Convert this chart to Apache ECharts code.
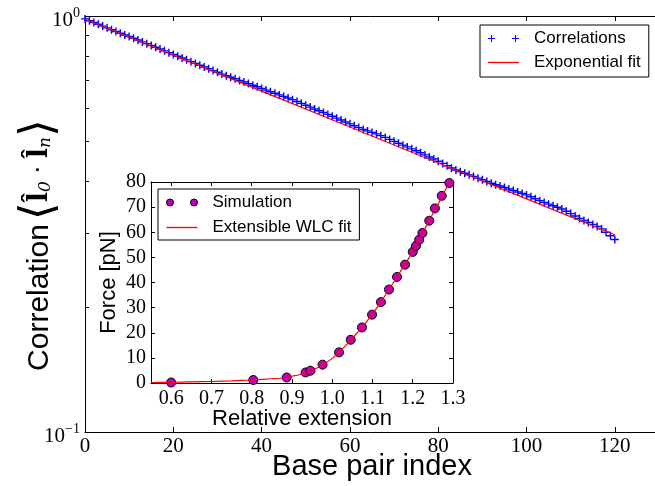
<!DOCTYPE html>
<html><head><meta charset="utf-8">
<script src="https://cdn.jsdelivr.net/npm/echarts@6/dist/echarts.min.js"></script>
<style>html,body{margin:0;padding:0;background:#fff}#c{width:655px;height:486px}</style>
</head><body><div id="c"></div>
<script>
// ---------- data ----------
const basePairIndex = [0,1,2,3,4,5,6,7,8,9,10,11,12,13,14,15,16,17,18,19,20,21,22,23,24,25,26,27,28,29,30,31,32,33,34,35,36,37,38,39,40,41,42,43,44,45,46,47,48,49,50,51,52,53,54,55,56,57,58,59,60,61,62,63,64,65,66,67,68,69,70,71,72,73,74,75,76,77,78,79,80,81,82,83,84,85,86,87,88,89,90,91,92,93,94,95,96,97,98,99,100,101,102,103,104,105,106,107,108,109,110,111,112,113,114,115,116,117,118,119,120];
const correlations = [
 0.9841,0.9744,0.9646,0.9551,0.9457,0.9364,0.9271,0.9179,0.9088,0.8999,
 0.8929,0.8840,0.8753,0.8665,0.8580,0.8496,0.8412,0.8328,0.8245,0.8165,
 0.8084,0.8004,0.7925,0.7846,0.7768,0.7693,0.7616,0.7540,0.7466,0.7392,
 0.7322,0.7249,0.7182,0.7122,0.7063,0.7001,0.6939,0.6879,0.6818,0.6757,
 0.6694,0.6636,0.6577,0.6519,0.6462,0.6406,0.6349,0.6294,0.6230,0.6166,
 0.6101,0.6040,0.5977,0.5918,0.5860,0.5800,0.5742,0.5681,0.5622,0.5563,
 0.5505,0.5448,0.5392,0.5337,0.5294,0.5250,0.5207,0.5158,0.5107,0.5051,
 0.4996,0.4945,0.4893,0.4845,0.4794,0.4744,0.4690,0.4635,0.4582,0.4530,
 0.4477,0.4423,0.4367,0.4312,0.4264,0.4225,0.4188,0.4151,0.4115,0.4076,
 0.4039,0.4001,0.3964,0.3932,0.3903,0.3872,0.3839,0.3807,0.3775,0.3743,
 0.3715,0.3678,0.3638,0.3599,0.3563,0.3530,0.3499,0.3469,0.3436,0.3393,
 0.3350,0.3305,0.3262,0.3224,0.3190,0.3155,0.3120,0.3078,0.3022,0.2964,
 0.2902];
const fitIndex = [0,20,40,60,80,100,120];
const fitCorrelation = [0.9824,0.8052,0.6600,0.5409,0.4434,0.3634,0.2979];

const simExtension = [0.600,0.804,0.887,0.934,0.946,0.976,1.017,1.046,1.074,1.099,1.121,1.141,1.161,1.181,1.200,1.208,1.216,1.224,1.241,1.255,1.272,1.291];
const simForce     = [0.2,1.2,2.2,4.2,4.9,7.3,12.2,17.2,22.1,27.2,32.2,37.2,42.2,47.1,52.2,54.6,57.0,59.7,64.6,69.5,74.5,79.6];
const wlcExtension = [0.55,0.60,0.65,0.70,0.75,0.80,0.85,0.88,0.90,0.92,0.94,0.96,0.98,1.00,1.02,1.04,1.06,1.08,1.10,1.12,1.14,1.16,1.18,1.20,1.22,1.24,1.26,1.28,1.29,1.30];
const wlcForce     = [0.2,0.3,0.45,0.6,0.85,1.2,1.7,2.1,2.7,3.4,4.5,5.8,7.6,9.8,12.8,16.0,19.6,23.3,27.5,32.0,37.0,42.0,47.0,52.3,58.3,64.4,70.3,76.5,79.5,82.5];

const mainXTicks = [0,20,40,60,80,100,120];
const mainYTickValues = [0.1,0.2,0.3,0.4,0.5,0.6,0.7,0.8,0.9,1.0];
const insetXTicks = [0.6,0.7,0.8,0.9,1.0,1.1,1.2,1.3];

// ---------- chart ----------
const chart = echarts.init(document.getElementById('c'), null, {renderer:'canvas'});
const BLACK = '#000';
const serif = 'Liberation Serif';
const sans = 'Liberation Sans';
const plusIcon = 'path://M0,3.3h8v1.4h-8zM3.3,0h1.4v8h-1.4z';
const plusPairIcon = 'path://M0,3h7v1h-7zM3,0h1v7h-1zM24,3h7v1h-7zM27,0h1v7h-1z';
const lineIcon = 'path://M0,0h31v1.3h-31z';
const circlePairIcon = 'path://M0,3.5a3.5,3.5 0 1,0 7,0a3.5,3.5 0 1,0 -7,0zM24,3.5a3.5,3.5 0 1,0 7,0a3.5,3.5 0 1,0 -7,0z';
const logTickPos = mainYTickValues.map(v => Math.log10(v));

function frameAxis(extra) {
  return Object.assign({
    axisLine: {show: true, onZero: false, lineStyle: {color: BLACK, width: 1}},
    splitLine: {show: false},
    nameMoveOverlap: false
  }, extra);
}

const option = {
  animation: false,
  backgroundColor: '#fff',
  grid: [
    {left: 85, top: 16, width: 574, height: 416, outerBoundsMode: 'none', containLabel: false},
    {left: 151, top: 182, width: 302, height: 201, show: true, backgroundColor: '#fff', borderWidth: 0, outerBoundsMode: 'none', containLabel: false}
  ],
  legend: [
    {
      left: 480, top: 25, orient: 'vertical',
      padding: [5, 8, 6, 8], itemWidth: 31, itemHeight: 7, itemGap: 7,
      backgroundColor: '#fff', borderColor: BLACK, borderWidth: 1, borderRadius: 0,
      selectedMode: false,
      itemStyle: {borderWidth: 0},
      data: [{name: 'Correlations', icon: plusPairIcon}, {name: 'Exponential fit', icon: lineIcon}],
      formatter: '{t|{name}}',
      textStyle: {color: BLACK, fontFamily: sans, fontSize: 17,
        rich: {t: {color: BLACK, fontFamily: sans, fontSize: 17, padding: [0, 0, 0, 10]}}}
    },
    {
      left: 158, top: 189, orient: 'vertical',
      padding: [5, 8, 4, 8], itemWidth: 31, itemHeight: 7, itemGap: 8,
      backgroundColor: '#fff', borderColor: BLACK, borderWidth: 1, borderRadius: 0,
      selectedMode: false,
      data: [
        {name: 'Simulation', icon: circlePairIcon, itemStyle: {borderColor: BLACK, borderWidth: 1}},
        {name: 'Extensible WLC fit', icon: lineIcon, itemStyle: {borderWidth: 0}}
      ],
      formatter: '{t|{name}}',
      textStyle: {color: BLACK, fontFamily: sans, fontSize: 17,
        rich: {t: {color: BLACK, fontFamily: sans, fontSize: 17, padding: [0, 0, 0, 10]}}}
    }
  ],
  xAxis: [
    frameAxis({
      gridIndex: 0, type: 'value', min: 0, max: 130, position: 'bottom',
      axisTick: {show: true, inside: true, length: 5, customValues: mainXTicks, lineStyle: {color: BLACK}},
      axisLabel: {show: true, customValues: mainXTicks, fontFamily: serif, fontSize: 21, color: BLACK, margin: 4},
      name: 'Base pair index', nameLocation: 'middle', nameGap: 20,
      nameTextStyle: {fontFamily: sans, fontSize: 29, color: BLACK}
    }),
    frameAxis({
      gridIndex: 0, type: 'value', min: 0, max: 130, position: 'top',
      axisTick: {show: true, inside: true, length: 5, customValues: mainXTicks, lineStyle: {color: BLACK}},
      axisLabel: {show: false}
    }),
    frameAxis({
      gridIndex: 1, type: 'value', min: 0.55, max: 1.3, position: 'bottom',
      axisTick: {show: true, inside: true, length: 4, customValues: insetXTicks, lineStyle: {color: BLACK}},
      axisLabel: {show: true, customValues: insetXTicks, formatter: v => Number(v).toFixed(1),
        fontFamily: serif, fontSize: 20, color: BLACK, margin: 6},
      name: 'Relative extension', nameLocation: 'middle', nameGap: 25,
      nameTextStyle: {fontFamily: sans, fontSize: 22, color: BLACK}
    }),
    frameAxis({
      gridIndex: 1, type: 'value', min: 0.55, max: 1.3, position: 'top',
      axisTick: {show: true, inside: true, length: 4, customValues: insetXTicks, lineStyle: {color: BLACK}},
      axisLabel: {show: false}
    })
  ],
  yAxis: [
    frameAxis({
      gridIndex: 0, type: 'log', logBase: 10, min: 0.1, max: 1, position: 'left',
      axisTick: {show: false},
      axisLabel: {
        show: true, margin: 5, padding: [5, 0, 0, 0],
        formatter: v => (v > 0.5 ? '{a|10}{s|0}' : '{a|10}{s|−1}'),
        rich: {
          a: {fontFamily: serif, fontSize: 21, color: BLACK, verticalAlign: 'bottom', padding: [4, 0, 0, 0]},
          s: {fontFamily: serif, fontSize: 14, color: BLACK, verticalAlign: 'top'}
        }
      },
      name: '{a|Correlation}{b|⟨}{c|l̂}{d|0}{e| · }{c|l̂}{d|n}{f|⟩}',
      nameLocation: 'middle', nameGap: 22,
      nameTextStyle: {
        color: BLACK,
        rich: {
          a: {fontFamily: sans, fontSize: 30, color: BLACK},
          b: {fontFamily: 'DejaVu Sans', fontSize: 46, color: BLACK, padding: [0, 0, 0, 4]},
          c: {fontFamily: 'DejaVu Serif', fontWeight: 'bold', fontSize: 27, color: BLACK},
          d: {fontFamily: 'DejaVu Serif', fontStyle: 'italic', fontSize: 17, color: BLACK, padding: [12, 0, 0, 0]},
          e: {fontFamily: 'DejaVu Serif', fontSize: 24, color: BLACK},
          f: {fontFamily: 'DejaVu Sans', fontSize: 46, color: BLACK, padding: [0, 42, 0, 0]}
        }
      }
    }),
    frameAxis({
      gridIndex: 0, type: 'value', min: -1, max: 0, position: 'left',
      axisLine: {show: false, onZero: false},
      axisTick: {show: true, inside: true, length: 4, customValues: logTickPos, lineStyle: {color: BLACK}},
      axisLabel: {show: false}
    }),
    frameAxis({
      gridIndex: 0, type: 'value', min: -1, max: 0, position: 'right',
      axisTick: {show: true, inside: true, length: 4, customValues: logTickPos, lineStyle: {color: BLACK}},
      axisLabel: {show: false}
    }),
    frameAxis({
      gridIndex: 1, type: 'value', min: 0, max: 80, interval: 10, position: 'left',
      axisTick: {show: true, inside: true, length: 4, lineStyle: {color: BLACK}},
      axisLabel: {show: true, fontFamily: serif, fontSize: 20, color: BLACK, margin: 5},
      name: 'Force [pN]', nameLocation: 'middle', nameGap: 31,
      nameTextStyle: {fontFamily: sans, fontSize: 22, color: BLACK}
    }),
    frameAxis({
      gridIndex: 1, type: 'value', min: 0, max: 80, interval: 10, position: 'right',
      axisTick: {show: true, inside: true, length: 4, lineStyle: {color: BLACK}},
      axisLabel: {show: false}
    })
  ],
  series: [
    {
      name: 'Correlations', type: 'scatter', xAxisIndex: 0, yAxisIndex: 0,
      data: basePairIndex.map((n, i) => [n, correlations[i]]),
      symbol: plusIcon, symbolSize: 8,
      itemStyle: {color: '#0000ff', opacity: 1}, z: 2
    },
    {
      name: 'Exponential fit', type: 'line', xAxisIndex: 0, yAxisIndex: 0,
      data: fitIndex.map((n, i) => [n, fitCorrelation[i]]),
      symbol: 'none', lineStyle: {color: '#ff0000', width: 1.2},
      itemStyle: {color: '#ff0000'}, z: 3
    },
    {
      name: 'Simulation', type: 'scatter', xAxisIndex: 2, yAxisIndex: 3,
      data: simExtension.map((x, i) => [x, simForce[i]]),
      symbol: 'circle', symbolSize: 9,
      itemStyle: {color: '#bf00bf', borderColor: BLACK, borderWidth: 1, opacity: 1}, z: 3
    },
    {
      name: 'Extensible WLC fit', type: 'line', xAxisIndex: 2, yAxisIndex: 3,
      data: wlcExtension.map((x, i) => [x, wlcForce[i]]),
      symbol: 'none', smooth: 0.3, clip: true,
      lineStyle: {color: '#ff0000', width: 1.2},
      itemStyle: {color: '#ff0000'}, z: 4
    }
  ]
};
chart.setOption(option);
</script>
</body></html>
